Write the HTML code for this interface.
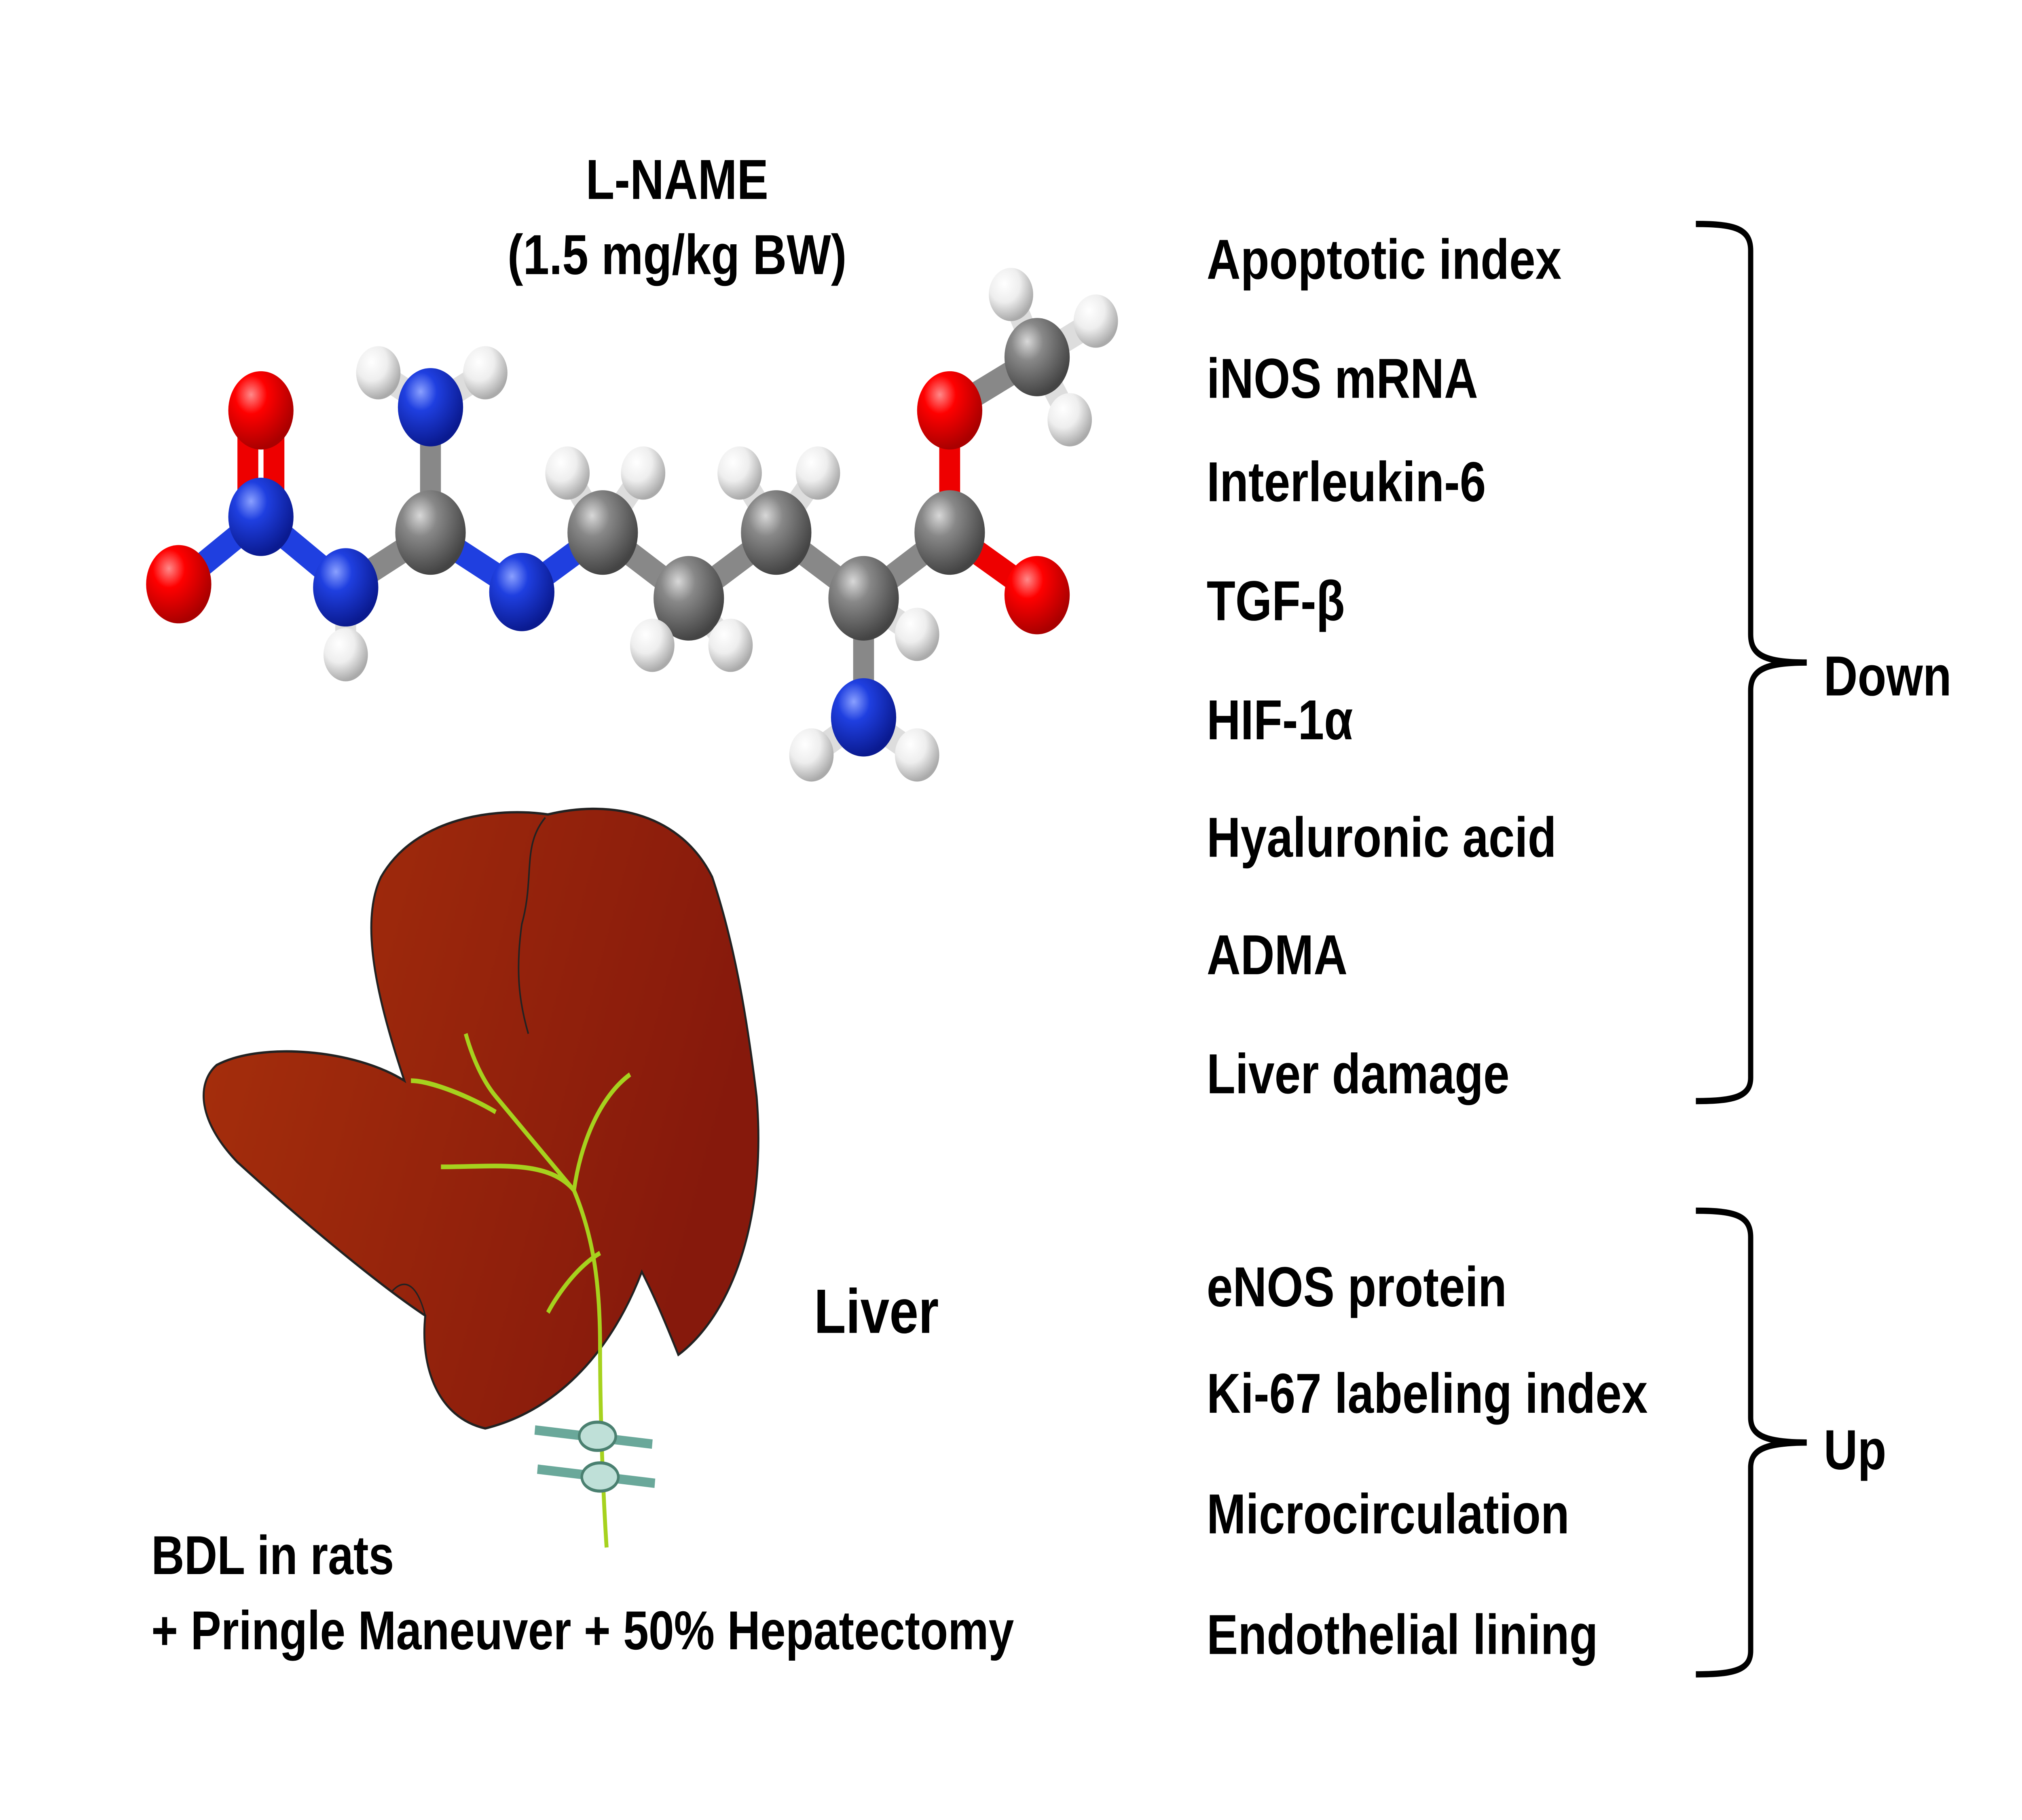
<!DOCTYPE html>
<html><head><meta charset="utf-8"><style>
html,body{margin:0;padding:0;background:#fff;width:100%;height:100%;overflow:hidden;}
svg{position:fixed;left:0;top:0;width:100vw;height:100vh;display:block;}
text{font-family:"Liberation Sans",Arial,sans-serif;font-weight:bold;fill:#000;}
</style></head><body>
<svg viewBox="0 0 1550 1162" preserveAspectRatio="none" xmlns="http://www.w3.org/2000/svg">
<defs>
<radialGradient id="gr" cx="35%" cy="30%" r="70%"><stop offset="0" stop-color="#ff8a8a"/><stop offset="0.35" stop-color="#f00"/><stop offset="1" stop-color="#a00"/></radialGradient>
<radialGradient id="gb" cx="35%" cy="30%" r="70%"><stop offset="0" stop-color="#8aa0ff"/><stop offset="0.35" stop-color="#1f3fe0"/><stop offset="1" stop-color="#0a1a90"/></radialGradient>
<radialGradient id="gg" cx="35%" cy="30%" r="70%"><stop offset="0" stop-color="#d8d8d8"/><stop offset="0.35" stop-color="#888"/><stop offset="1" stop-color="#444"/></radialGradient>
<radialGradient id="gw" cx="35%" cy="30%" r="70%"><stop offset="0" stop-color="#fff"/><stop offset="0.5" stop-color="#eee"/><stop offset="1" stop-color="#aaa"/></radialGradient>
<linearGradient id="liv" x1="0" y1="0" x2="1" y2="0.3"><stop offset="0" stop-color="#a8300c"/><stop offset="1" stop-color="#86190c"/></linearGradient>
</defs>
<text x="519" y="127" font-size="36" text-anchor="middle">L-NAME</text>
<text x="519" y="175" font-size="36" text-anchor="middle">(1.5 mg/kg BW)</text>

<g stroke-width="16" stroke-linecap="round">
<line x1="190" y1="262" x2="190" y2="330" stroke="#e00"/>
<line x1="210" y1="262" x2="210" y2="330" stroke="#e00"/>
<line x1="137" y1="373" x2="200" y2="330" stroke="#1f3fe0"/>
<line x1="200" y1="330" x2="265" y2="375" stroke="#1f3fe0"/>
<line x1="265" y1="375" x2="330" y2="340" stroke="#888"/>
<line x1="265" y1="375" x2="265" y2="418" stroke="#ddd"/>
<line x1="330" y1="340" x2="330" y2="260" stroke="#888"/>
<line x1="330" y1="260" x2="290" y2="238" stroke="#ddd"/>
<line x1="330" y1="260" x2="372" y2="238" stroke="#ddd"/>
<line x1="330" y1="340" x2="400" y2="378" stroke="#1f3fe0"/>
<line x1="400" y1="378" x2="462" y2="340" stroke="#1f3fe0"/>
<line x1="462" y1="340" x2="528" y2="382" stroke="#888"/>
<line x1="528" y1="382" x2="595" y2="340" stroke="#888"/>
<line x1="595" y1="340" x2="662" y2="382" stroke="#888"/>
<line x1="662" y1="382" x2="728" y2="340" stroke="#888"/>
<line x1="662" y1="382" x2="662" y2="458" stroke="#888"/>
<line x1="728" y1="340" x2="728" y2="262" stroke="#e00"/>
<line x1="728" y1="340" x2="795" y2="380" stroke="#e00"/>
<line x1="728" y1="262" x2="795" y2="228" stroke="#888"/>
<line x1="462" y1="340" x2="435" y2="302" stroke="#ddd"/>
<line x1="462" y1="340" x2="493" y2="302" stroke="#ddd"/>
<line x1="528" y1="382" x2="500" y2="412" stroke="#ddd"/>
<line x1="528" y1="382" x2="560" y2="412" stroke="#ddd"/>
<line x1="595" y1="340" x2="567" y2="302" stroke="#ddd"/>
<line x1="595" y1="340" x2="627" y2="302" stroke="#ddd"/>
<line x1="662" y1="382" x2="703" y2="405" stroke="#ddd"/>
<line x1="662" y1="458" x2="622" y2="482" stroke="#ddd"/>
<line x1="662" y1="458" x2="703" y2="482" stroke="#ddd"/>
<line x1="795" y1="228" x2="775" y2="188" stroke="#ddd"/>
<line x1="795" y1="228" x2="840" y2="205" stroke="#ddd"/>
<line x1="795" y1="228" x2="820" y2="268" stroke="#ddd"/>
</g>
<g>
<circle cx="290" cy="238" r="17" fill="url(#gw)"/><circle cx="372" cy="238" r="17" fill="url(#gw)"/>
<circle cx="265" cy="418" r="17" fill="url(#gw)"/>
<circle cx="435" cy="302" r="17" fill="url(#gw)"/><circle cx="493" cy="302" r="17" fill="url(#gw)"/>
<circle cx="567" cy="302" r="17" fill="url(#gw)"/><circle cx="627" cy="302" r="17" fill="url(#gw)"/>
<circle cx="775" cy="188" r="17" fill="url(#gw)"/><circle cx="840" cy="205" r="17" fill="url(#gw)"/><circle cx="820" cy="268" r="17" fill="url(#gw)"/>
<circle cx="200" cy="262" r="25" fill="url(#gr)"/>
<circle cx="200" cy="330" r="25" fill="url(#gb)"/>
<circle cx="137" cy="373" r="25" fill="url(#gr)"/>
<circle cx="265" cy="375" r="25" fill="url(#gb)"/>
<circle cx="330" cy="260" r="25" fill="url(#gb)"/>
<circle cx="330" cy="340" r="27" fill="url(#gg)"/>
<circle cx="400" cy="378" r="25" fill="url(#gb)"/>
<circle cx="462" cy="340" r="27" fill="url(#gg)"/>
<circle cx="528" cy="382" r="27" fill="url(#gg)"/>
<circle cx="500" cy="412" r="17" fill="url(#gw)"/><circle cx="560" cy="412" r="17" fill="url(#gw)"/>
<circle cx="595" cy="340" r="27" fill="url(#gg)"/>
<circle cx="662" cy="382" r="27" fill="url(#gg)"/>
<circle cx="703" cy="405" r="17" fill="url(#gw)"/>
<circle cx="662" cy="458" r="25" fill="url(#gb)"/>
<circle cx="622" cy="482" r="17" fill="url(#gw)"/><circle cx="703" cy="482" r="17" fill="url(#gw)"/>
<circle cx="728" cy="340" r="27" fill="url(#gg)"/>
<circle cx="728" cy="262" r="25" fill="url(#gr)"/>
<circle cx="795" cy="380" r="25" fill="url(#gr)"/>
<circle cx="795" cy="228" r="25" fill="url(#gg)"/>
</g>

<path d="M310,690 C290,640 275,590 292,560 C318,522 380,515 420,520 C470,510 522,520 546,560 C562,600 572,645 580,700 C588,780 560,840 520,865 C508,840 500,825 492,812 C470,860 430,900 372,912 C335,905 322,872 326,840 C290,820 232,780 182,742 C152,716 150,692 166,680 C200,665 272,670 310,690 Z" fill="url(#liv)" stroke="#222" stroke-width="1.5"/>
<path d="M418,522 C400,540 410,560 400,590 C395,620 398,640 405,660" fill="none" stroke="#222" stroke-width="1.2"/>
<path d="M326,840 C320,820 310,815 300,825" fill="none" stroke="#222" stroke-width="1"/>
<g fill="none" stroke="#a6d21e" stroke-width="3">
<path d="M465,988 C462,950 460,900 460,860 C460,820 455,790 440,760 C420,740 400,720 380,700 C370,690 362,675 357,660"/>
<path d="M440,760 C420,740 380,745 338,745"/>
<path d="M440,760 C445,730 460,700 483,686"/>
<path d="M460,800 C440,810 425,830 420,838"/>
<path d="M380,710 C360,700 330,690 315,690"/>
</g>
<g fill="none" stroke="#6aa89a" stroke-width="6">
<path d="M410,913 L500,922"/><path d="M412,938 L502,947"/>
</g>
<g fill="#bfe0d8" stroke="#4a8070" stroke-width="2">
<ellipse cx="458" cy="917" rx="14" ry="9"/><ellipse cx="460" cy="943" rx="14" ry="9"/>
</g>

<text x="624" y="851" font-size="40">Liver</text>
<text x="116" y="1005" font-size="35">BDL in rats</text>
<text x="116" y="1053" font-size="35">+ Pringle Maneuver + 50% Hepatectomy</text>

<g font-size="36">
<text x="925" y="178">Apoptotic index</text>
<text x="925" y="254">iNOS mRNA</text>
<text x="925" y="320">Interleukin-6</text>
<text x="925" y="396">TGF-β</text>
<text x="925" y="472">HIF-1α</text>
<text x="925" y="547">Hyaluronic acid</text>
<text x="925" y="622">ADMA</text>
<text x="925" y="698">Liver damage</text>
<text x="925" y="834">eNOS protein</text>
<text x="925" y="902">Ki-67 labeling index</text>
<text x="925" y="979">Microcirculation</text>
<text x="925" y="1056">Endothelial lining</text>
<text x="1398" y="444">Down</text>
<text x="1398" y="938">Up</text>
</g>

<g fill="none" stroke="#000" stroke-width="4">
<path d="M1300,143 C1330,143 1342,146 1342,160 L1342,405 C1342,418 1352,423 1385,423 C1352,423 1342,428 1342,441 L1342,688 C1342,700 1330,703 1300,703"/>
<path d="M1300,773 C1330,773 1342,776 1342,790 L1342,905 C1342,916 1352,921 1385,921 C1352,921 1342,926 1342,937 L1342,1054 C1342,1066 1330,1069 1300,1069"/>
</g>
</svg>
</body></html>
